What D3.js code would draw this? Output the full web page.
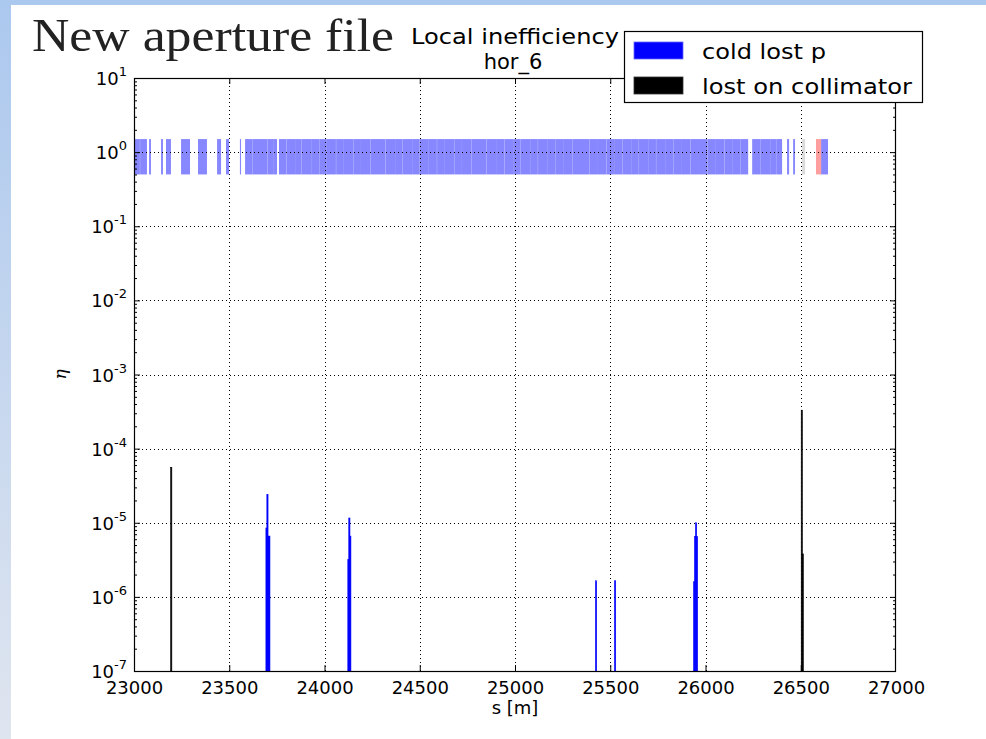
<!DOCTYPE html>
<html>
<head>
<meta charset="utf-8">
<script src="https://cdn.jsdelivr.net/npm/d3@7"></script>
<style>
  html, body { margin: 0; padding: 0; background: #fff; }
  svg { display: block; }
</style>
</head>
<body>
<svg id="chart" width="986" height="739"></svg>
<script>
// ---------------- DATA ----------------
const slideTitle = "New aperture file";
const chartTitle = ["Local inefficiency", "hor_6"];
const xLabel = "s [m]";
const yLabel = "η";
const xTicks = [23000, 23500, 24000, 24500, 25000, 25500, 26000, 26500, 27000];
const yExponents = [1, 0, -1, -2, -3, -4, -5, -6, -7];
const legendLabels = ["cold lost p", "lost on collimator"];

// aperture elements (start, end) in s [m] drawn as band between 0.5 and 1.5
const coldElemStart = [23000, 23032, 23079, 23142, 23168, 23247, 23336, 23436, 23483, 23556,
  23583, 23621, 23656, 23701, 23731,
  23761, 23801, 23846, 23881, 23931, 23976, 24011, 24061, 24101, 24151, 24191, 24241, 24286, 24321,
  24371, 24411, 24461, 24501, 24546, 24591, 24631, 24681, 24721, 24771, 24811, 24851, 24901, 24946,
  24991, 25031, 25081, 25121, 25171, 25211, 25256, 25301, 25341, 25391, 25431, 25481, 25521, 25566,
  25611, 25651, 25701, 25741, 25791, 25831, 25876, 25921, 25961, 26011, 26051, 26101, 26141, 26186,
  26245, 26291, 26341, 26371, 26428, 26460, 26607];
const coldElemEnd = [23031, 23068, 23089, 23152, 23194, 23294, 23383, 23457, 23499, 23562,
  23620, 23656, 23700, 23731, 23751,
  23800, 23846, 23880, 23931, 23975, 24011, 24060, 24101, 24150, 24191, 24240, 24286, 24320, 24371,
  24410, 24461, 24500, 24546, 24590, 24631, 24680, 24721, 24770, 24811, 24850, 24901, 24945, 24991,
  25030, 25081, 25120, 25171, 25210, 25256, 25300, 25341, 25390, 25431, 25480, 25521, 25565, 25611,
  25650, 25701, 25740, 25791, 25830, 25876, 25920, 25961, 26010, 26051, 26100, 26141, 26185, 26224,
  26290, 26341, 26370, 26402, 26439, 26470, 26643];
const grayElemStart = [26507];
const grayElemEnd = [26523];
const redElemStart = [26580];
const redElemEnd = [26607];
const bandLow = 0.5, bandHigh = 1.5;

// loss maps
const coldLossS = [23695, 23700, 23705, 23710, 24125, 24130, 24135, 25425, 25525, 25940, 25945, 25950, 25955];
const coldLossV = [8.5e-6, 2.4e-5, 6.6e-6, 6.6e-6, 3.2e-6, 1.16e-5, 6.6e-6, 1.65e-6, 1.65e-6, 1.6e-6, 6.5e-6, 1.0e-5, 6.5e-6];
const collLossS = [23195, 26505, 26510];
const collLossV = [5.6e-5, 3.3e-4, 3.8e-6];
const binWidth = 5;

// ---------------- DRAW ----------------
const svg = d3.select("#chart");
const W = 986, H = 739;

// slide background
const defs = svg.append("defs");
const grad = defs.append("linearGradient").attr("id", "sideGrad")
  .attr("x1", 0).attr("y1", 0).attr("x2", 0).attr("y2", 1);
grad.append("stop").attr("offset", "0%").attr("stop-color", "#abc8ee");
grad.append("stop").attr("offset", "100%").attr("stop-color", "#dfe5ef");
svg.append("rect").attr("x", 0).attr("y", 0).attr("width", W).attr("height", H).attr("fill", "#ffffff");
svg.append("rect").attr("x", 0).attr("y", 0).attr("width", 11).attr("height", H).attr("fill", "url(#sideGrad)");
svg.append("rect").attr("x", 0).attr("y", 0).attr("width", W).attr("height", 5).attr("fill", "#abc8ee");

const m = { left: 134, right: 896, top: 78, bottom: 671 };
const x = d3.scaleLinear().domain([23000, 27000]).range([m.left, m.right]);
const y = d3.scaleLog().domain([1e-7, 10]).range([m.bottom, m.top]);

const sans = "DejaVu Sans, sans-serif";

// band of elements
const band = svg.append("g");
function drawElems(starts, ends, color, op) {
  band.selectAll(null).data(starts.map((s, i) => [s, ends[i]])).enter().append("rect")
    .attr("x", d => x(d[0]))
    .attr("width", d => Math.max(0.8, x(d[1]) - x(d[0])))
    .attr("y", y(bandHigh))
    .attr("height", y(bandLow) - y(bandHigh))
    .attr("fill", color).attr("fill-opacity", op);
}
drawElems(coldElemStart, coldElemEnd, "#0000ff", 0.47);
drawElems(grayElemStart, grayElemEnd, "#888888", 0.3);
drawElems(redElemStart, redElemEnd, "#ff0000", 0.38);

// grid (dotted)
const grid = svg.append("g").attr("stroke", "#000").attr("stroke-width", 1)
  .attr("stroke-dasharray", "1,3");
xTicks.slice(1, -1).forEach(t => {
  grid.append("line").attr("x1", Math.round(x(t)) + 0.5).attr("x2", Math.round(x(t)) + 0.5)
    .attr("y1", m.top).attr("y2", m.bottom);
});
yExponents.slice(1, -1).forEach(e => {
  const yy = Math.round(y(Math.pow(10, e))) + 0.5;
  grid.append("line").attr("x1", m.left).attr("x2", m.right).attr("y1", yy).attr("y2", yy);
});

// loss bars
const losses = svg.append("g");
function drawLoss(S, V, color) {
  losses.selectAll(null).data(S.map((s, i) => [s, V[i]])).enter().append("rect")
    .attr("x", d => x(d[0]) - 0.5)
    .attr("width", d => Math.max(1.2, x(d[0] + binWidth) - x(d[0])))
    .attr("y", d => y(d[1]))
    .attr("height", d => y(1e-7) - y(d[1]))
    .attr("fill", color).attr("stroke", color).attr("stroke-width", 0.6);
}
drawLoss(coldLossS, coldLossV, "#0000ff");
drawLoss(collLossS, collLossV, "#000000");

// axes using d3 axes with inward ticks
const xAxisB = d3.axisBottom(x).tickValues(xTicks).tickSize(-6).tickPadding(10).tickFormat(d3.format("d"));
const gxb = svg.append("g").attr("transform", `translate(0,${m.bottom})`).call(xAxisB);
const xAxisT = d3.axisTop(x).tickValues(xTicks.slice(0, -1)).tickSize(-6).tickFormat("");
const gxt = svg.append("g").attr("transform", `translate(0,${m.top})`).call(xAxisT);

const majorY = yExponents.map(e => Math.pow(10, e));
const minorY = [];
yExponents.slice(1).forEach(e => { for (let k = 2; k <= 9; k++) minorY.push(k * Math.pow(10, e)); });

const yAxisL = d3.axisLeft(y).tickValues(majorY).tickSize(-6).tickFormat("");
const gyl = svg.append("g").attr("transform", `translate(${m.left},0)`).call(yAxisL);
const yAxisLm = d3.axisLeft(y).tickValues(minorY).tickSize(-3).tickFormat("");
const gylm = svg.append("g").attr("transform", `translate(${m.left},0)`).call(yAxisLm);
const yAxisR = d3.axisRight(y).tickValues(majorY).tickSize(-6).tickFormat("");
const gyr = svg.append("g").attr("transform", `translate(${m.right},0)`).call(yAxisR);
const yAxisRm = d3.axisRight(y).tickValues(minorY).tickSize(-3).tickFormat("");
const gyrm = svg.append("g").attr("transform", `translate(${m.right},0)`).call(yAxisRm);

[gxb, gxt, gyl, gylm, gyr, gyrm].forEach(g => {
  g.select(".domain").remove();
  g.selectAll(".tick line").attr("stroke", "#000").attr("stroke-width", 1);
});
gxb.selectAll(".tick line").filter(d => d === 27000).remove();
gxb.selectAll(".tick text").attr("font-family", sans).attr("font-size", 18).attr("fill", "#000");

// y tick labels with superscripts
const ylab = svg.append("g");
yExponents.forEach(e => {
  const t = ylab.append("text")
    .attr("x", m.left - 7)
    .attr("y", y(Math.pow(10, e)) + 7)
    .attr("text-anchor", "end")
    .attr("font-family", sans).attr("font-size", 18).attr("fill", "#000");
  t.append("tspan").text("10");
  t.append("tspan").attr("dy", -9).attr("font-size", 13).text(String(e));
});

// frame
svg.append("rect").attr("x", m.left + 0.5).attr("y", m.top + 0.5)
  .attr("width", m.right - m.left - 1).attr("height", m.bottom - m.top)
  .attr("fill", "none").attr("stroke", "#000").attr("stroke-width", 1.2);

// axis labels
svg.append("text").attr("x", (m.left + m.right) / 2).attr("y", 714)
  .attr("text-anchor", "middle").attr("font-family", sans).attr("font-size", 18).text(xLabel);
svg.append("text").attr("transform", `translate(66,${(m.top + m.bottom) / 2}) rotate(-90)`)
  .attr("text-anchor", "middle").attr("font-family", "DejaVu Serif, serif").attr("font-style", "italic")
  .attr("font-size", 17).text(yLabel);

// titles
svg.append("text").attr("x", 515).attr("y", 44).attr("text-anchor", "middle")
  .attr("font-family", sans).attr("font-size", 21)
  .attr("textLength", 208).attr("lengthAdjust", "spacingAndGlyphs").text(chartTitle[0]);
svg.append("text").attr("x", 513).attr("y", 69).attr("text-anchor", "middle")
  .attr("font-family", sans).attr("font-size", 21).text(chartTitle[1]);

svg.append("text").attr("x", 32).attr("y", 51)
  .attr("font-family", "Liberation Serif, serif").attr("font-size", 46).attr("fill", "#222")
  .attr("textLength", 362).attr("lengthAdjust", "spacingAndGlyphs").text(slideTitle);

// legend
const lg = svg.append("g");
lg.append("rect").attr("x", 624.5).attr("y", 31.5).attr("width", 298).attr("height", 71)
  .attr("fill", "#fff").attr("stroke", "#000").attr("stroke-width", 1.2);
const legendColors = ["#0000ff", "#000000"];
const legendWidths = [124, 210];
legendLabels.forEach((l, i) => {
  lg.append("rect").attr("x", 634).attr("y", 42 + i * 35).attr("width", 49).attr("height", 17)
    .attr("fill", legendColors[i]).attr("stroke", legendColors[i] === "#0000ff" ? "#6666ff" : "#333").attr("stroke-width", 0.8);
  lg.append("text").attr("x", 702).attr("y", 59 + i * 35)
    .attr("font-family", sans).attr("font-size", 22).attr("fill", "#000")
    .attr("textLength", legendWidths[i]).attr("lengthAdjust", "spacingAndGlyphs").text(l);
});
</script>
</body>
</html>
